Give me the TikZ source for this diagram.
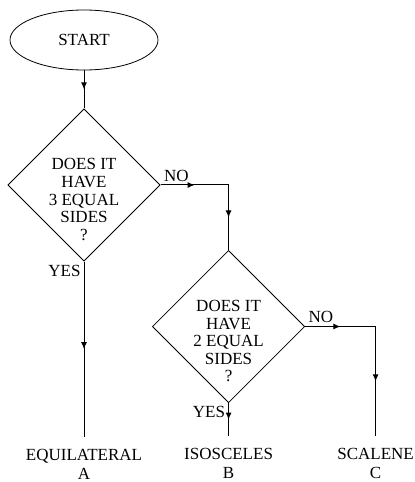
\documentclass[tikz,border=0pt]{standalone}
\usepackage{fontspec}
\setmainfont{Liberation Serif}
\usetikzlibrary{positioning,shapes.geometric,arrows.meta,decorations.markings}

% texte des losanges : premiere ligne 7.5pt au-dessus du centre
\newcommand{\quest}[1]{\raisebox{0pt}[13pt][28pt]{\begin{tabular}[t]{@{}c@{}}#1\end{tabular}}}

\begin{document}
\begin{tikzpicture}[
  node distance = 19pt,
  debut/.style  = {draw, ellipse, minimum width=74pt, minimum height=30pt,
                   inner sep=0pt, font=\fontsize{8.5}{9.5}\selectfont},
  choix/.style  = {draw, diamond, aspect=1, minimum size=76pt, inner sep=0pt,
                   font=\fontsize{8.5}{8.8}\selectfont},
  fin/.style    = {align=center, inner sep=6pt, font=\fontsize{8.5}{9.5}\selectfont},
  fleche/.style = {line width=0.5pt, postaction={decorate},
                   decoration={markings, mark=at position 0.5 with
                               {\arrow{Latex[length=3.5pt,width=3pt]}}}},
  rep/.style    = {font=\fontsize{8.5}{9.5}\selectfont, inner sep=1.5pt}
]
\useasboundingbox (0,0) rectangle (207pt,-241pt);
\node[debut] (debut) at (42pt,-20pt) {START};
\node[choix, below=of debut] (q3) {\quest{DOES IT\\HAVE\\3 EQUAL\\SIDES\\?}};
\node[choix, below=32.5pt of q3.east, xshift=34pt] (q2) {\quest{DOES IT\\HAVE\\2 EQUAL\\SIDES\\?}};
\node[fin, below=87.5pt of q3] (eq) {EQUILATERAL\\A};
\node[fin, below=16.5pt of q2] (iso) {ISOSCELES\\B};
\node[fin, below=16.5pt of q2, xshift=73.5pt] (sca) {SCALENE\\C};
\coordinate (k3) at (q2.north |- q3.east);
\coordinate (k2) at (sca.north |- q2.east);
\draw[fleche] (debut) -- (q3);
\draw[fleche] (q3.south) node[rep, below left] (oui3) {YES} -- (eq);
\draw[fleche] (q3.east) node[rep, above right] (non3) {NO} -- (k3);
\draw[fleche] (k3) -- (q2);
\draw[fleche] (q2.south) node[rep, below left] (oui2) {YES} -- (iso);
\draw[fleche] (q2.east) node[rep, above right] (non2) {NO} -- (k2);
\draw[fleche] (k2) -- (sca);
\end{tikzpicture}
\end{document}
